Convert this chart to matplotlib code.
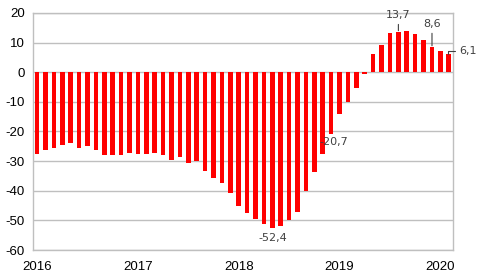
import matplotlib
matplotlib.use("Agg")
import matplotlib.pyplot as plt
import numpy as np

values = [-27.7, -26.4, -25.6, -24.4, -23.9, -25.6, -24.9, -26.4, -27.8, -28.1, -27.9, -27.1,
          -27.5, -27.6, -27.3, -27.9, -29.6, -28.6, -30.7, -29.9, -33.3, -35.6, -37.4, -40.7,
          -45.2, -47.4, -49.4, -51.3, -52.4, -51.9, -49.7, -47.1, -40.1, -33.6, -27.6, -20.7,
          -14.2, -9.9, -5.5, -0.7, 6.2, 9.1, 13.1, 13.7, 13.9, 12.8, 10.9, 8.6, 7.3, 6.1]
year_labels = ["2016", "2017", "2018", "2019", "2020"]
year_ticks = [0, 12, 24, 36, 48]
yticks = [-60, -50, -40, -30, -20, -10, 0, 10, 20]

plt.rcParams['font.family'] = ['Liberation Sans', 'DejaVu Sans']

fig = plt.figure(figsize=(4.85, 2.8), dpi=100)
ax = fig.add_axes([0.068, 0.107, 0.866, 0.847])

x = np.arange(len(values))
ax.bar(x, values, width=0.55, color='#FF0000', zorder=3)

ax.set_xlim(-0.5, len(values) - 0.5)
ax.set_ylim(-60, 20)
ax.set_yticks(yticks)
ax.set_yticklabels([str(v) for v in yticks], fontsize=9.5)
ax.set_xticks(year_ticks)
ax.set_xticklabels(year_labels, fontsize=9.5)
ax.tick_params(axis='y', length=0, pad=6)
ax.tick_params(axis='x', length=0, pad=8)
ax.grid(axis='y', color='#bfbfbf', linewidth=1.0, zorder=0)
for s in ax.spines.values():
    s.set_color('#bfbfbf')
    s.set_linewidth(1.0)

lab_font = dict(fontsize=8, color='#404040', family=['DejaVu Sans'], zorder=5)
v = values
ax.annotate("-52,4", xy=(28, v[28]), xytext=(0, -4), textcoords='offset points',
            ha='center', va='top', **lab_font)
ax.annotate("-20,7", xy=(33.6, -23.4), ha='left', va='center', **lab_font)
ax.annotate("13,7", xy=(43, v[43] + 0.3), xytext=(43.0, 19.2), textcoords='data',
            ha='center', va='center', **lab_font,
            arrowprops=dict(arrowstyle='-', color='#404040', lw=0.8, shrinkA=1, shrinkB=0))
ax.annotate("8,6", xy=(47, v[47] + 0.3), xytext=(47.0, 16.2), textcoords='data',
            ha='center', va='center', **lab_font,
            arrowprops=dict(arrowstyle='-', color='#404040', lw=0.8, shrinkA=1, shrinkB=0))
ax.annotate("6,1", xy=(48.9, v[49] + 0.1), xytext=(50.2, 7.0), textcoords='data',
            ha='left', va='center', annotation_clip=False, **lab_font,
            arrowprops=dict(arrowstyle='-', color='#404040', lw=0.8, shrinkA=0.5, shrinkB=0,
                            connectionstyle='angle,angleA=180,angleB=90,rad=0'))

fig.savefig("out.png", dpi=100)
